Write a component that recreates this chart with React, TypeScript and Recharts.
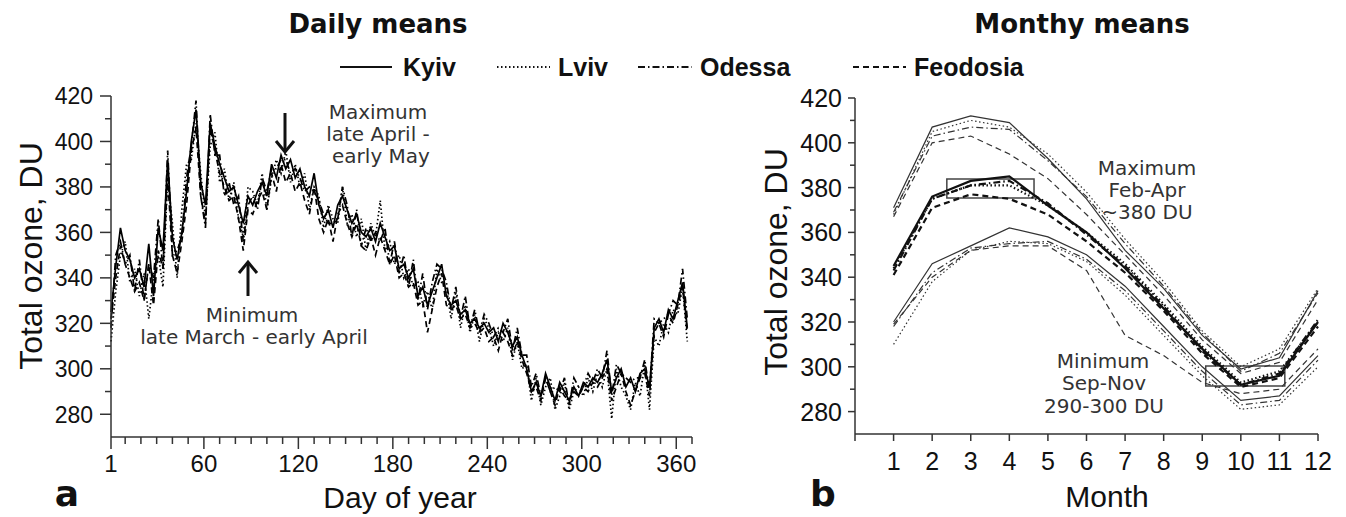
import React from 'react';
import { LineChart, Line, XAxis, YAxis, ReferenceArea } from 'recharts';

// ---- daily means (every 3rd day, day 1 .. 367) ----
const kyivDaily = [
  325, 345, 362, 352, 348, 340, 344, 336, 355, 332,
  362, 352, 392, 358, 348, 360, 378, 400, 414, 382,
  372, 408, 398, 390, 384, 378, 380, 372, 364, 376,
  372, 378, 382, 376, 390, 384, 394, 388, 392, 384,
  388, 380, 376, 386, 372, 366, 370, 362, 372, 376,
  370, 364, 368, 360, 358, 362, 356, 364, 358, 352,
  354, 344, 346, 340, 344, 332, 336, 328, 334, 340,
  346, 332, 328, 330, 324, 326, 320, 322, 318, 320,
  316, 318, 312, 320, 316, 310, 314, 306, 300, 290,
  294, 288, 298, 292, 286, 294, 290, 286, 292, 288,
  294, 292, 296, 294, 298, 304, 290, 296, 300, 292,
  296, 290, 298, 300, 292, 318, 322, 316, 326, 322,
  330, 338, 318,
];
const lvivDaily = [
  312, 334, 350, 356, 338, 344, 332, 342, 322, 340,
  350, 336, 384, 364, 340, 370, 390, 392, 408, 386,
  366, 398, 404, 382, 388, 374, 382, 366, 358, 380,
  378, 372, 386, 370, 384, 392, 386, 396, 382, 390,
  380, 386, 370, 380, 376, 362, 372, 366, 364, 380,
  364, 368, 358, 366, 352, 364, 358, 374, 352, 356,
  346, 350, 340, 344, 336, 338, 328, 334, 326, 344,
  338, 336, 322, 334, 318, 328, 316, 324, 312, 322,
  318, 310, 316, 312, 318, 304, 312, 300, 302, 286,
  296, 284, 292, 296, 282, 288, 294, 282, 290, 292,
  288, 296, 290, 298, 292, 300, 278, 300, 292, 288,
  282, 294, 288, 302, 282, 314, 310, 320, 316, 326,
  324, 336, 312,
];
const odessaDaily = [
  318, 350, 356, 346, 350, 334, 348, 330, 346, 340,
  366, 344, 396, 350, 352, 358, 384, 398, 418, 376,
  362, 412, 394, 394, 376, 382, 372, 376, 356, 372,
  376, 370, 384, 378, 388, 388, 392, 392, 386, 388,
  384, 378, 380, 378, 374, 368, 364, 364, 366, 380,
  372, 358, 370, 354, 362, 356, 360, 356, 362, 346,
  356, 342, 350, 336, 348, 330, 342, 326, 338, 346,
  344, 338, 326, 336, 322, 332, 318, 326, 316, 324,
  320, 314, 318, 316, 322, 308, 318, 306, 306, 292,
  298, 288, 296, 290, 292, 290, 296, 284, 296, 292,
  292, 298, 294, 300, 296, 308, 288, 302, 298, 296,
  294, 296, 296, 304, 290, 322, 320, 322, 324, 330,
  328, 344, 322,
];
const feodosiaDaily = [
  322, 340, 354, 346, 340, 334, 338, 330, 346, 328,
  352, 344, 384, 350, 342, 356, 372, 396, 406, 376,
  364, 406, 396, 386, 380, 374, 376, 366, 352, 370,
  368, 374, 378, 370, 386, 378, 390, 382, 386, 378,
  382, 374, 368, 380, 366, 360, 366, 356, 368, 372,
  364, 358, 364, 354, 352, 358, 350, 358, 352, 346,
  350, 340, 342, 336, 338, 328, 330, 316, 326, 336,
  342, 328, 326, 328, 322, 324, 318, 320, 316, 318,
  312, 314, 308, 316, 312, 306, 312, 304, 298, 290,
  292, 286, 296, 290, 284, 292, 288, 286, 290, 288,
  292, 290, 294, 292, 296, 300, 286, 292, 298, 290,
  284, 290, 296, 298, 288, 316, 320, 314, 324, 320,
  328, 336, 316,
];
const days = kyivDaily.map((_, i) => 1 + i * 3);

// ---- monthly means (upper / mean / lower) ----
const months = [1, 2, 3, 4, 5, 6, 7, 8, 9, 10, 11, 12];
const kyivUpper = [371, 407, 412, 409, 393, 375, 352, 335, 314, 299, 304, 334];
const kyivMean = [345, 376, 383, 385, 372, 360, 344, 326, 308, 292, 296, 320];
const kyivLower = [320, 346, 354, 362, 358, 350, 336, 318, 300, 285, 287, 305];
const lvivUpper = [368, 405, 410, 407, 395, 378, 357, 338, 316, 300, 308, 335];
const lvivMean = [344, 375, 381, 381, 372, 360, 346, 328, 309, 293, 298, 320];
const lvivLower = [310, 338, 352, 356, 355, 347, 332, 314, 296, 281, 283, 300];
const odessaUpper = [369, 403, 407, 406, 392, 376, 355, 336, 315, 298, 306, 333];
const odessaMean = [343, 375, 381, 383, 373, 359, 345, 327, 307, 292, 297, 321];
const odessaLower = [318, 342, 353, 355, 356, 348, 334, 316, 298, 283, 285, 303];
const feodosiaUpper = [367, 400, 403, 395, 384, 368, 350, 332, 312, 297, 302, 330];
const feodosiaMean = [341, 371, 377, 375, 368, 356, 342, 325, 306, 291, 295, 318];
const feodosiaLower = [319, 340, 352, 354, 354, 343, 314, 305, 293, 288, 290, 308];

// boxes marking max / min periods [x1, x2, y1, y2]
const maxBox = [2.38, 4.64, 375.4, 383.8];
const minBox = [9.09, 11.14, 291.4, 300.4];

const dailyData = days.map((d, i) => ({
  day: d,
  kyiv: kyivDaily[i],
  lviv: lvivDaily[i],
  odessa: odessaDaily[i],
  feodosia: feodosiaDaily[i],
}));

const monthlyData = months.map((m, i) => ({
  month: m,
  kyivUpper: kyivUpper[i], kyivMean: kyivMean[i], kyivLower: kyivLower[i],
  lvivUpper: lvivUpper[i], lvivMean: lvivMean[i], lvivLower: lvivLower[i],
  odessaUpper: odessaUpper[i], odessaMean: odessaMean[i], odessaLower: odessaLower[i],
  feodosiaUpper: feodosiaUpper[i], feodosiaMean: feodosiaMean[i], feodosiaLower: feodosiaLower[i],
}));

const DASH: Record<string, string | undefined> = {
  kyiv: undefined,
  lviv: '1.5 2.5',
  odessa: '7 3 1.5 3',
  feodosia: '6 4',
};
const stations = ['kyiv', 'lviv', 'odessa', 'feodosia'];

const AXIS = '#333';
const TICK_FONT = '"Liberation Sans", Arial, sans-serif';
const NOTE_FONT = '"DejaVu Sans", sans-serif';

const dailyTicksX = [1, 10, 20, 30, 40, 50, 60, 70, 80, 90, 100, 110, 120, 130, 140, 150, 160, 170, 180,
  190, 200, 210, 220, 230, 240, 250, 260, 270, 280, 290, 300, 310, 320, 330, 340, 350, 360, 370];
const dailyLabels = [1, 60, 120, 180, 240, 300, 360];
const ozoneTicks = [270, 280, 290, 300, 310, 320, 330, 340, 350, 360, 370, 380, 390, 400, 410, 420];
const monthTicks = [0, 1, 2, 3, 4, 5, 6, 7, 8, 9, 10, 11, 12];

const YTick = (props: any) => {
  const { x, y, payload, fontSize, major, minor, gap } = props;
  const isMajor = payload.value % 20 === 0;
  if (payload.value === 270) return null;
  return (
    <g>
      <line x1={x - (isMajor ? major : minor)} x2={x} y1={y} y2={y} stroke={AXIS} strokeWidth={1.5} />
      {isMajor && (
        <text x={x - gap} y={y} dy="0.36em" textAnchor="end" fontSize={fontSize} fontFamily={TICK_FONT} fill="#111">
          {payload.value}
        </text>
      )}
    </g>
  );
};

const DayTick = (props: any) => {
  const { x, y, payload } = props;
  const isMajor = dailyLabels.includes(payload.value);
  return (
    <g>
      <line x1={x} x2={x} y1={y} y2={y + (isMajor ? 12 : 7)} stroke={AXIS} strokeWidth={1.5} />
      {isMajor && (
        <text x={x} y={y + 35} textAnchor="middle" fontSize={24} fontFamily={TICK_FONT} fill="#111">
          {payload.value}
        </text>
      )}
    </g>
  );
};

const MonthTick = (props: any) => {
  const { x, y, payload } = props;
  return (
    <g>
      <line x1={x} x2={x} y1={y} y2={y + 7} stroke={AXIS} strokeWidth={1.5} />
      {payload.value > 0 && (
        <text x={x} y={y + 36} textAnchor="middle" fontSize={25} fontFamily={TICK_FONT} fill="#111">
          {payload.value}
        </text>
      )}
    </g>
  );
};

const legendItems = [
  { key: 'kyiv', name: 'Kyiv', x1: 340, x2: 392, tx: 403 },
  { key: 'lviv', name: 'Lviv', x1: 497, x2: 550, tx: 558 },
  { key: 'odessa', name: 'Odessa', x1: 638, x2: 692, tx: 700 },
  { key: 'feodosia', name: 'Feodosia', x1: 853, x2: 906, tx: 914 },
];

const Overlay = () => (
  <svg width={1346} height={517} style={{ position: 'absolute', left: 0, top: 0, pointerEvents: 'none' }}>
    <g fontFamily={NOTE_FONT} fontWeight="bold" fontSize={26} fill="#111" textAnchor="middle">
      <text x={378} y={33}>Daily means</text>
      <text x={1082} y={33}>Monthy means</text>
    </g>
    {legendItems.map((it) => (
      <g key={it.key}>
        <line x1={it.x1} x2={it.x2} y1={67} y2={67} stroke="#111" strokeWidth={2} strokeDasharray={DASH[it.key]} />
        <text x={it.tx} y={76} fontFamily={TICK_FONT} fontWeight="bold" fontSize={25} fill="#111">{it.name}</text>
      </g>
    ))}
    <g fontFamily={TICK_FONT} fontSize={32} fill="#111" textAnchor="middle">
      <text transform="translate(42,256) rotate(-90)">Total ozone, DU</text>
      <text transform="translate(787,262) rotate(-90)">Total ozone, DU</text>
    </g>
    <g fontFamily={TICK_FONT} fontSize={30} fill="#111" textAnchor="middle">
      <text x={400} y={508}>Day of year</text>
      <text x={1107} y={507}>Month</text>
    </g>
    <g fontFamily={NOTE_FONT} fontWeight="bold" fontSize={36} fill="#111" textAnchor="middle">
      <text x={67} y={506}>a</text>
      <text x={823} y={506}>b</text>
    </g>
    <g fontFamily={NOTE_FONT} fontSize={20} fill="#333" textAnchor="middle">
      <text x={378} y={119}>Maximum</text>
      <text x={378} y={141}>late April -</text>
      <text x={381} y={163}>early May</text>
      <text x={252} y={322}>Minimum</text>
      <text x={254} y={344}>late March - early April</text>
      <text x={1147} y={175}>Maximum</text>
      <text x={1147} y={197}>Feb-Apr</text>
      <text x={1147} y={219}>~380 DU</text>
      <text x={1103} y={368}>Minimum</text>
      <text x={1104} y={390}>Sep-Nov</text>
      <text x={1104} y={413}>290-300 DU</text>
    </g>
    <g stroke="#111" strokeWidth={3} fill="none">
      <line x1={285} x2={285} y1={113} y2={151} />
      <polyline points="276,141 285,152 294,141" />
      <line x1={248} x2={248} y1={296} y2={263} />
      <polyline points="239,273 248,262 257,273" />
    </g>
  </svg>
);

export default function App() {
  return (
    <div style={{ position: 'absolute', left: 0, top: 0, width: 1346, height: 517, background: '#fff' }}>
      <div style={{ position: 'absolute', left: 0, top: 0 }}>
        <LineChart width={710} height={517} data={dailyData} margin={{ top: 96, right: 18, left: 51, bottom: 40 }}>
          <XAxis
            dataKey="day"
            type="number"
            domain={[1, 370]}
            ticks={dailyTicksX}
            interval={0}
            height={40}
            tickSize={0}
            tickMargin={0}
            tickLine={false}
            axisLine={{ stroke: AXIS, strokeWidth: 1.5 }}
            tick={<DayTick />}
          />
          <YAxis
            type="number"
            domain={[270, 420]}
            ticks={ozoneTicks}
            interval={0}
            width={60}
            tickSize={0}
            tickMargin={0}
            tickLine={false}
            axisLine={{ stroke: AXIS, strokeWidth: 1.5 }}
            tick={<YTick fontSize={23} major={11} minor={6} gap={18} />}
          />
          {stations.map((s) => (
            <Line
              key={s}
              dataKey={s}
              type="linear"
              stroke="#000"
              strokeWidth={1.7}
              strokeDasharray={DASH[s]}
              dot={false}
              activeDot={false}
              isAnimationActive={false}
            />
          ))}
        </LineChart>
      </div>
      <div style={{ position: 'absolute', left: 760, top: 0 }}>
        <LineChart width={586} height={517} data={monthlyData} margin={{ top: 98, right: 28, left: 35, bottom: 43 }}>
          <XAxis
            dataKey="month"
            type="number"
            domain={[0, 12]}
            ticks={monthTicks}
            interval={0}
            height={40}
            tickSize={0}
            tickMargin={0}
            tickLine={false}
            axisLine={{ stroke: AXIS, strokeWidth: 1.5 }}
            tick={<MonthTick />}
          />
          <YAxis
            type="number"
            domain={[270, 420]}
            ticks={ozoneTicks}
            interval={0}
            width={60}
            tickSize={0}
            tickMargin={0}
            tickLine={false}
            axisLine={{ stroke: AXIS, strokeWidth: 1.5 }}
            tick={<YTick fontSize={25} major={7} minor={5} gap={13} />}
          />
          <ReferenceArea x1={maxBox[0]} x2={maxBox[1]} y1={maxBox[2]} y2={maxBox[3]} fill="none" stroke="#444" strokeWidth={1.5} ifOverflow="visible" />
          <ReferenceArea x1={minBox[0]} x2={minBox[1]} y1={minBox[2]} y2={minBox[3]} fill="none" stroke="#444" strokeWidth={1.5} ifOverflow="visible" />
          {stations.map((s) =>
            ['Upper', 'Mean', 'Lower'].map((k) => (
              <Line
                key={s + k}
                dataKey={s + k}
                type="linear"
                stroke={k === 'Mean' ? '#111' : '#333'}
                strokeWidth={k === 'Mean' ? 2.2 : 1.2}
                strokeDasharray={DASH[s]}
                dot={false}
                activeDot={false}
                isAnimationActive={false}
              />
            ))
          )}
        </LineChart>
      </div>
      <Overlay />
    </div>
  );
}
